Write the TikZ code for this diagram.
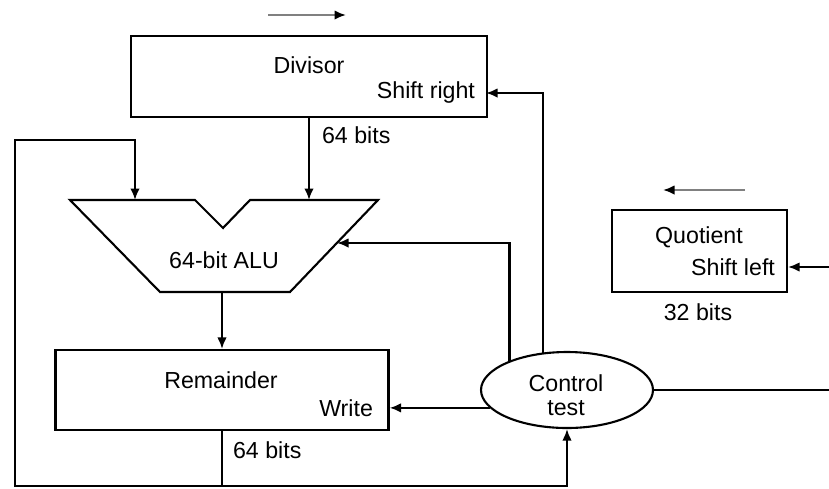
\documentclass[tikz,border=0pt]{standalone}
\usepackage{fontspec}
\setmainfont{Liberation Sans}
\usetikzlibrary{arrows.meta,shapes.geometric}
\newcommand{\dvfont}{\fontsize{13.2}{15}\selectfont}

\begin{document}
\begin{tikzpicture}[x=0.02cm,y=-0.02cm,line width=1.2pt,
		arr/.style={-{Latex[length=2.3mm,width=1.9mm,black]}},
		reg/.style={draw,rectangle,inner sep=0pt},
		lbl/.style={inner sep=0pt,font=\dvfont}]
	\useasboundingbox (0,0) rectangle (829,488);
	% registers
	\node[reg,minimum width=7.12cm,minimum height=1.62cm] (div) at (309,76.5) {};
	\node[reg,minimum width=6.66cm,minimum height=1.6cm] (rem) at (222,390) {};
	\node[reg,minimum width=3.5cm,minimum height=1.64cm] (quo) at (699.5,251) {};
	\node[draw,ellipse,minimum width=3.44cm,minimum height=1.52cm,inner sep=0pt] (ctl) at (567,390) {};
	% texts
	\node[lbl] (divT) at (309,65) {Divisor};
	\node[lbl,anchor=east] (divS) at (476,92) {Shift right};
	\node[lbl] (remT) at (221,380) {Remainder};
	\node[lbl,anchor=east] (remW) at (374,408) {Write};
	\node[lbl] (quoT) at (699,237) {Quotient};
	\node[lbl,anchor=east] (quoS) at (776,267) {Shift left};
	\node[lbl] (aluT) at (224,260) {64-bit ALU};
	\node[lbl,align=center] (ctlT) at (566,395) {Control\\[-1pt]test};
	\node[lbl,anchor=west] (bitsD) at (321,135) {64 bits};
	\node[lbl,anchor=west] (bitsR) at (232,450) {64 bits};
	\node[lbl] (bitsQ) at (698,312) {32 bits};
	% alu
	\coordinate (aluA) at (70,200);
	\coordinate (aluL) at (135,200);
	\coordinate (aluN) at (195,200);
	\coordinate (aluV) at (223,228);
	\coordinate (aluM) at (250,200);
	\coordinate (aluD) at (309,200);
	\coordinate (aluE) at (378,200);
	\coordinate (aluF) at (290,292);
	\coordinate (aluG) at (160,292);
	\coordinate (aluB) at (222,292);
	\coordinate (aluR) at (337,243);
	\draw[line join=miter] (aluA) -- (aluN) -- (aluV) -- (aluM) -- (aluE) -- (aluF) -- (aluG) -- cycle;
	% loop and edges
	\coordinate (lpB) at (15,486);
	\coordinate (lpT) at (15,140);
	\coordinate (divR) at (486,93);
	\coordinate (edgeC) at (829,390);
	\coordinate (edgeQ) at (829,267);
	\draw[arr] (div.south -| aluD) -- (aluD);
	\draw[arr] (aluB) -- (rem.north -| aluB);
	\draw[arr] (rem.south) |- (lpB) -- (lpT) -| (aluL);
	\draw[arr] (rem.south |- lpB) -| (ctl.south);
	\draw[arr] (ctl.153) |- (aluR);
	\draw[arr] (ctl.123) |- (divR);
	\draw[arr] (ctl.193) -- (ctl.193 -| rem.east);
	\draw (ctl.east) -- (edgeC);
	\draw[arr] (edgeQ) -- (edgeQ -| quo.east);
	% shift directions
	\draw[arr,draw=gray] (268,15) -- (346,15);
	\draw[arr,draw=gray] (745,190) -- (663,190);
\end{tikzpicture}
\end{document}
